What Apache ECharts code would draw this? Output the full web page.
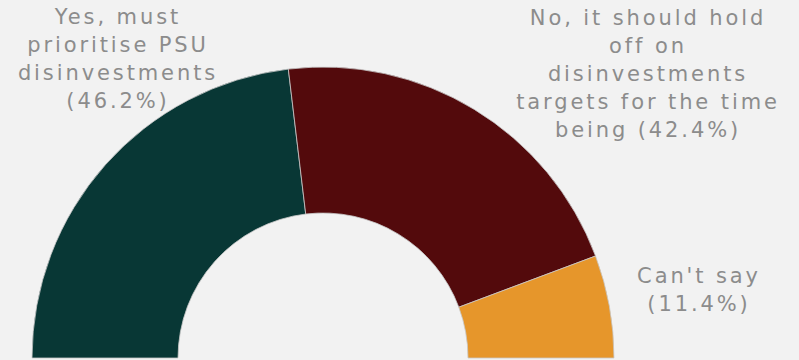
<!DOCTYPE html>
<html><head><meta charset="utf-8">
<script src="https://cdn.jsdelivr.net/npm/echarts@6/dist/echarts.min.js"></script>
<style>html,body{margin:0;padding:0;background:#f2f2f2;}#c{width:799px;height:360px;}#c text{letter-spacing:2.9px;}</style>
</head><body><div id="c"></div>
<script>
const categories = ["Yes, must\nprioritise PSU\ndisinvestments", "No, it should hold\noff on\ndisinvestments\ntargets for the time\nbeing", "Can't say"];
const values = [46.2, 42.4, 11.4];
const colors = ["#083735", "#530a0c", "#e6962b"];
const labelSep = ["\n", " ", "\n"];
const labelPos = [[118, 59], [648, 74], [699, 290]];

const chart = echarts.init(document.getElementById('c'), null, { renderer: 'svg' });
chart.setOption({
  backgroundColor: '#f2f2f2',
  animation: false,
  series: [{
    type: 'pie',
    center: [323, 358],
    radius: [145, 291],
    startAngle: 180,
    endAngle: 360,
    clockwise: true,
    data: categories.map((c, i) => ({ name: c, value: values[i], itemStyle: { color: colors[i] } })),
    itemStyle: { borderColor: '#c8c8c8', borderWidth: 0.8 },
    label: {
      show: true,
      position: 'outside',
      formatter: p => p.name + labelSep[p.dataIndex] + '(' + p.value.toFixed(1) + '%)',
      color: '#8c8c8c',
      fontFamily: 'DejaVu Sans',
      fontSize: 21,
      lineHeight: 28,
      align: 'center',
      overflow: 'none',
      edgeDistance: 0
    },
    labelLine: { show: false },
    labelLayout: p => ({ x: labelPos[p.dataIndex][0], y: labelPos[p.dataIndex][1], align: 'center', verticalAlign: 'middle', width: 400 })
  }]
});
</script></body></html>
